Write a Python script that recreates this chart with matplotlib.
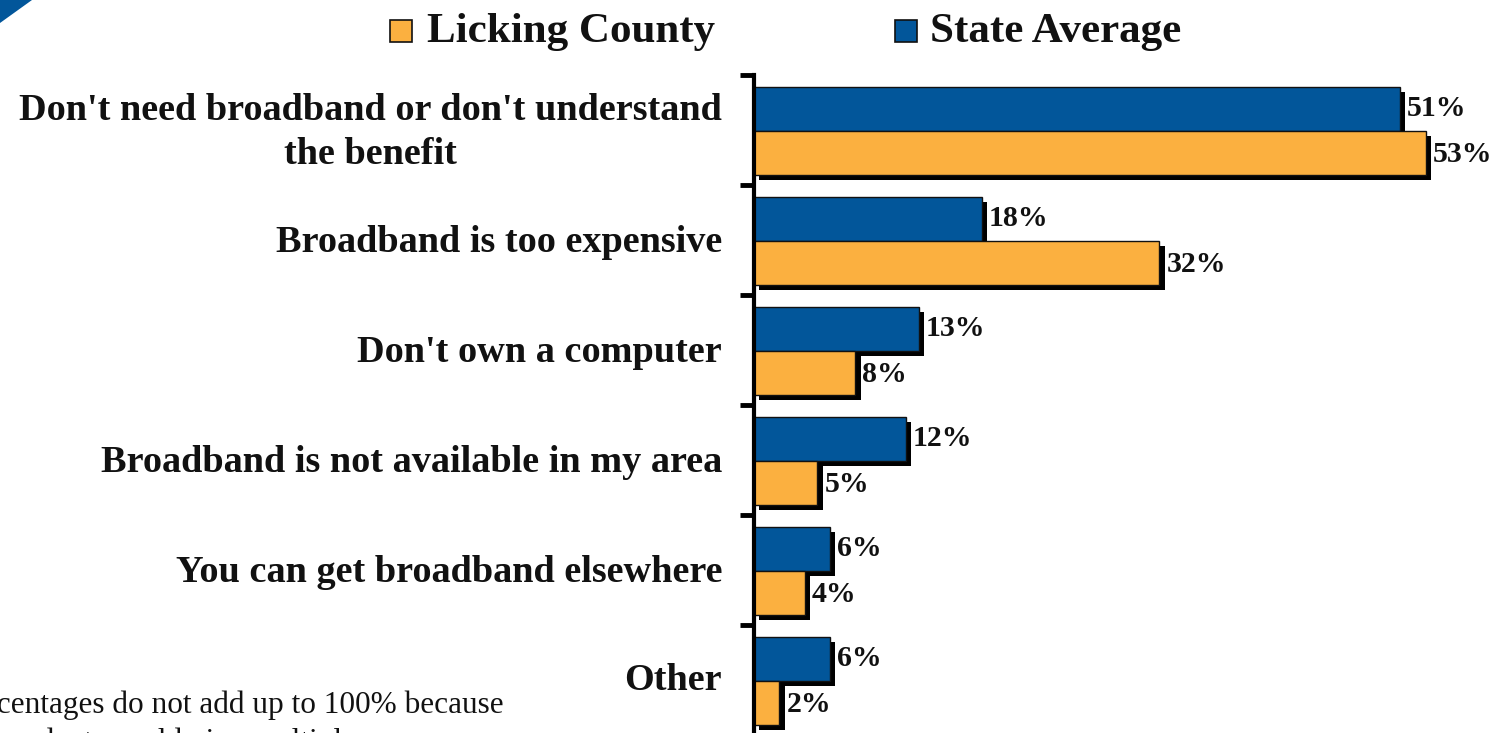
import matplotlib
matplotlib.use("Agg")
import matplotlib.pyplot as plt
import matplotlib.patheffects as pe
from matplotlib.patches import Polygon, Rectangle

categories = ["Don't need broadband or don't understand\nthe benefit",
              "Broadband is too expensive",
              "Don't own a computer",
              "Broadband is not available in my area",
              "You can get broadband elsewhere",
              "Other"]
state_avg = [51, 18, 13, 12, 6, 6]
licking = [53, 32, 8, 5, 4, 2]
series_names = ["Licking County", "State Average"]
footnote = ["Percentages do not add up to 100% because",
            "respondents could give multiple answers."]

BLUE = "#02569A"
ORANGE = "#FBB040"
W, H = 1506, 733
fig = plt.figure(figsize=(W / 100, H / 100), dpi=100)
serif = ["Liberation Serif", "DejaVu Serif"]

ax_left = 754 / W
ax_top = 1 - 75 / H
ax_bot = 1 - 735 / H
ax = fig.add_axes([ax_left, ax_bot, 1 - ax_left, ax_top - ax_bot])
ax.set_xlim(0, (W - 754) / 12.67)
n = len(categories)
ax.set_ylim(n, 0)

shadow = [pe.SimplePatchShadow(offset=(3.8, -3.8), shadow_rgbFace="black", alpha=1.0), pe.Normal()]
h = 0.4
for i in range(n):
    c = i + 0.5 + 0.006
    b1 = ax.barh(c - h / 2, state_avg[i], height=h, color=BLUE, edgecolor="#111111", linewidth=1)
    b2 = ax.barh(c + h / 2, licking[i], height=h, color=ORANGE, edgecolor="#111111", linewidth=1)
    for b in list(b1) + list(b2):
        b.set_path_effects(shadow)
    ax.text(state_avg[i] + 0.55, c - h / 2, f"{state_avg[i]}%", va="center", ha="left",
            fontsize=21.5, fontweight="bold", family=serif, color="#111111")
    ax.text(licking[i] + 0.55, c + h / 2 + 0.02, f"{licking[i]}%", va="center", ha="left",
            fontsize=21.5, fontweight="bold", family=serif, color="#111111")
    ax.text(-32 / 12.67, i + 0.5 + (0.0 if i == 5 else 0.02), categories[i], ha="right", va="center",
            multialignment="center", fontsize=27.5, fontweight="bold", family=serif,
            color="#111111", linespacing=1.33)

ax.set_yticks(range(n + 1))
ax.set_yticklabels([])
ax.tick_params(axis="y", length=10, width=3.5, color="black", direction="out")
ax.set_xticks([])
for s in ["top", "right", "bottom"]:
    ax.spines[s].set_visible(False)
ax.spines["left"].set_linewidth(3)
ax.set_facecolor("none")

# legend
fig.patches.append(Rectangle((390 / W, 1 - 42 / H), 22 / W, 22 / H, transform=fig.transFigure,
                             facecolor=ORANGE, edgecolor="#111111", linewidth=1.2))
fig.text(427 / W, 1 - 42 / H, series_names[0], fontsize=31, fontweight="bold", family=serif,
         va="baseline", ha="left", color="#111111")
fig.patches.append(Rectangle((895 / W, 1 - 42 / H), 22 / W, 22 / H, transform=fig.transFigure,
                             facecolor=BLUE, edgecolor="#111111", linewidth=1.2))
fig.text(930 / W, 1 - 42 / H, series_names[1], fontsize=31, fontweight="bold", family=serif,
         va="baseline", ha="left", color="#111111")

# corner decoration
fig.patches.append(Polygon([(0, 1), (32 / W, 1), (0, 1 - 23 / H)], closed=True,
                           transform=fig.transFigure, facecolor=BLUE, edgecolor="none"))

# footnote (cut off at the edge, as in the source slide)
fig.text(-45 / W, 1 - 713 / H, footnote[0], fontsize=22.5, family=serif,
         va="baseline", ha="left", color="#111111")
fig.text(-45 / W, 1 - 750 / H, footnote[1], fontsize=22.5, family=serif,
         va="baseline", ha="left", color="#111111")

fig.savefig("out.png", dpi=100)
